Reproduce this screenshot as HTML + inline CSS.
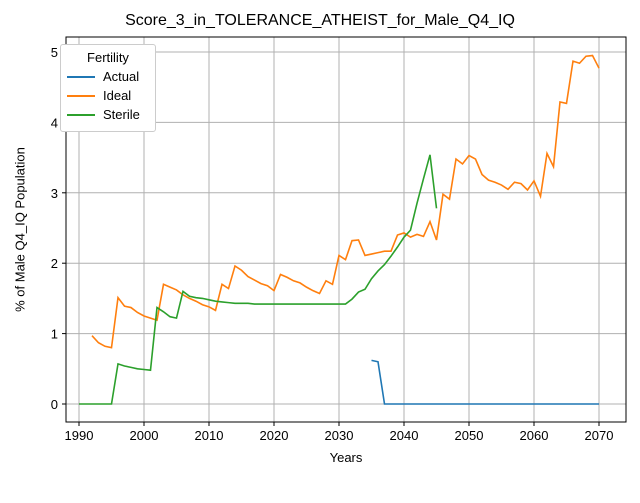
<!DOCTYPE html>
<html><head><meta charset="utf-8"><style>body{margin:0;background:#fff}svg{font-family:"Liberation Sans","DejaVu Sans",sans-serif}</style></head>
<body>
<svg id="c" width="640" height="480"></svg>
<script>
const actualYears=[2035,2036,2037,2038,2039,2040,2041,2042,2043,2044,2045,2046,2047,2048,2049,2050,2051,2052,2053,2054,2055,2056,2057,2058,2059,2060,2061,2062,2063,2064,2065,2066,2067,2068,2069,2070];
const actualVals=[0.62,0.60,0,0,0,0,0,0,0,0,0,0,0,0,0,0,0,0,0,0,0,0,0,0,0,0,0,0,0,0,0,0,0,0,0,0];
const idealStart=1992;
const idealVals=[0.97,0.87,0.82,0.80,1.51,1.39,1.37,1.30,1.25,1.22,1.19,1.70,1.66,1.62,1.55,1.50,1.46,1.41,1.38,1.33,1.70,1.64,1.96,1.90,1.81,1.76,1.71,1.68,1.61,1.84,1.80,1.75,1.72,1.66,1.61,1.57,1.75,1.70,2.11,2.05,2.32,2.33,2.11,2.13,2.15,2.17,2.17,2.40,2.43,2.37,2.41,2.38,2.59,2.33,2.98,2.91,3.48,3.41,3.53,3.48,3.26,3.18,3.15,3.11,3.05,3.15,3.13,3.04,3.17,2.95,3.56,3.37,4.29,4.27,4.87,4.84,4.94,4.95,4.77];
const sterileStart=1990;
const sterileVals=[0,0,0,0,0,0,0.57,0.54,0.52,0.50,0.49,0.48,1.37,1.31,1.24,1.22,1.60,1.53,1.51,1.50,1.48,1.46,1.45,1.44,1.43,1.43,1.43,1.42,1.42,1.42,1.42,1.42,1.42,1.42,1.42,1.42,1.42,1.42,1.42,1.42,1.42,1.42,1.49,1.59,1.63,1.78,1.89,1.98,2.10,2.23,2.37,2.47,2.85,3.20,3.54,2.78];
const xTicks=[1990,2000,2010,2020,2030,2040,2050,2060,2070];
const yTicks=[0,1,2,3,4,5];
const L=66,R=626,T=37,B=422;
const x=v=>79+(v-1990)*6.5, y=v=>404-v*70.4;
const svg=document.getElementById('c');const NS='http://www.w3.org/2000/svg';
function mk(t,a,p){const e=document.createElementNS(NS,t);for(const k in a)e.setAttribute(k,a[k]);(p||svg).appendChild(e);return e;}
xTicks.forEach(t=>{const g=mk('line',{x1:x(t),x2:x(t),y1:T,y2:B,stroke:'#b0b0b0','stroke-width':1});

mk('line',{x1:x(t),x2:x(t),y1:B,y2:B+4,stroke:'#000'});
const l=mk('text',{x:x(t),y:B+18,'text-anchor':'middle','font-size':13});l.textContent=t;
});
yTicks.forEach(t=>{const g=mk('line',{x1:L,x2:R,y1:y(t),y2:y(t),stroke:'#b0b0b0','stroke-width':1});

mk('line',{x1:L-4,x2:L,y1:y(t),y2:y(t),stroke:'#000'});
const l=mk('text',{x:L-8,y:y(t)+5,'text-anchor':'end','font-size':13});l.textContent=t;
});
function line(xs,vs,c,name){const p=mk('polyline',{points:vs.map((v,i)=>x(xs[i])+','+y(v)).join(' '),fill:'none',stroke:c,'stroke-width':1.6});
}
line(actualYears,actualVals,'#1f77b4','actual-line');
line(idealVals.map((_,i)=>idealStart+i),idealVals,'#ff7f0e','ideal-line');
line(sterileVals.map((_,i)=>sterileStart+i),sterileVals,'#2ca02c','sterile-line');
const fr=mk('rect',{x:L,y:T,width:R-L,height:B-T,fill:'none',stroke:'#000'});

</script>
<svg width="0" height="0"></svg>
<div style="position:absolute;left:0;top:0;width:640px;height:480px;pointer-events:none">
<div style="position:absolute;left:0;width:640px;top:12px;text-align:center;font:16px 'Liberation Sans',sans-serif">Score_3_in_TOLERANCE_ATHEIST_for_Male_Q4_IQ</div>
<div style="position:absolute;left:66px;width:560px;top:450px;text-align:center;font:13px 'Liberation Sans',sans-serif">Years</div>
<div style="position:absolute;left:-80px;width:200px;top:222px;text-align:center;font:13px 'Liberation Sans',sans-serif;transform:rotate(-90deg)">% of Male Q4_IQ Population</div>
<div style="position:absolute;left:60px;top:44px;width:94px;height:86px;border:1px solid #ccc;border-radius:3px;background:#fff;font:13px 'Liberation Sans',sans-serif">
<div style="text-align:center;margin-top:5px">Fertility</div>
<div style="margin:4px 0 0 6px;display:flex;align-items:center"><span style="display:inline-block;width:28px;height:2px;background:#1f77b4;margin-right:8px"></span>Actual</div>
<div style="margin:4px 0 0 6px;display:flex;align-items:center"><span style="display:inline-block;width:28px;height:2px;background:#ff7f0e;margin-right:8px"></span>Ideal</div>
<div style="margin:4px 0 0 6px;display:flex;align-items:center"><span style="display:inline-block;width:28px;height:2px;background:#2ca02c;margin-right:8px"></span>Sterile</div>
</div></div>
</body></html>
